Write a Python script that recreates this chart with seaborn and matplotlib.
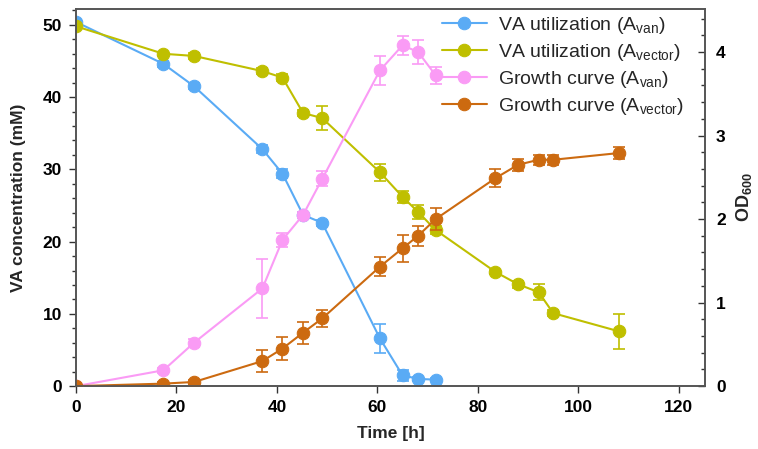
import matplotlib
matplotlib.use("Agg")
import matplotlib.pyplot as plt
import seaborn as sns
import pandas as pd
from matplotlib.ticker import MultipleLocator

sns.set_theme(style="ticks")
plt.rcParams['font.family'] = ['Liberation Sans', 'DejaVu Sans']
plt.rcParams['mathtext.fontset'] = 'custom'
plt.rcParams['mathtext.rm'] = 'Liberation Sans'
plt.rcParams['mathtext.bf'] = 'Liberation Sans:bold'
plt.rcParams['mathtext.default'] = 'regular'

# Data
t_van = [0, 17.4, 23.5, 37.1, 41.1, 45.2, 49.0, 60.5, 65.0, 68.1, 71.6]
va_van = [50.4, 44.6, 41.5, 32.8, 29.4, 23.7, 22.6, 6.6, 1.5, 1.0, 0.9]
va_van_err = [0.3, 0.4, 0.4, 0.6, 0.6, 0.4, 0.4, 2.0, 0.8, 0.3, 0.2]

t_vec = [0, 17.4, 23.5, 37.1, 41.1, 45.2, 49.0, 60.5, 65.0, 68.1, 71.6, 83.5, 88.0, 92.1, 95.0, 108.0]
va_vec = [49.8, 46.0, 45.7, 43.6, 42.7, 37.8, 37.1, 29.6, 26.2, 24.1, 21.6, 15.8, 14.1, 13.0, 10.1, 7.6]
va_vec_err = [0.3, 0.3, 0.4, 0.4, 0.5, 0.4, 1.7, 1.2, 0.8, 1.0, 0.6, 0.3, 0.5, 1.1, 0.4, 2.4]

od_van = [0.0, 0.19, 0.52, 1.17, 1.75, 2.05, 2.48, 3.78, 4.08, 4.00, 3.72]
od_van_err = [0.01, 0.03, 0.05, 0.35, 0.08, 0.04, 0.09, 0.17, 0.11, 0.14, 0.10]

od_vec = [0.0, 0.03, 0.05, 0.30, 0.45, 0.64, 0.81, 1.43, 1.65, 1.80, 2.00, 2.49, 2.65, 2.71, 2.71, 2.79]
od_vec_err = [0.01, 0.02, 0.02, 0.13, 0.14, 0.13, 0.10, 0.11, 0.16, 0.12, 0.13, 0.11, 0.07, 0.06, 0.06, 0.07]

labels = ['VA utilization (A$_{van}$)', 'VA utilization (A$_{vector}$)',
          'Growth curve (A$_{van}$)', 'Growth curve (A$_{vector}$)']
colors = ['#5aabf5', '#bfbf00', '#fa9bf5', '#cc6a10']

fig = plt.figure(figsize=(7.58, 4.49), dpi=100)
ax = fig.add_axes([0.1003, 0.14, 0.8297, 0.84])
ax2 = ax.twinx()

ms = 9
lw = 1.5

def draw(axis, x, y, err, label, color):
    df = pd.DataFrame({'t': x, 'v': y})
    axis.errorbar(x, y, yerr=err, fmt='none', ecolor=color, elinewidth=1.2, capsize=4, capthick=1.2)
    sns.lineplot(data=df, x='t', y='v', ax=axis, color=color, marker='o', markersize=ms,
                 markeredgecolor=color, linewidth=lw, label=label, legend=False)

draw(ax, t_van, va_van, va_van_err, labels[0], colors[0])
draw(ax, t_vec, va_vec, va_vec_err, labels[1], colors[1])
draw(ax2, t_van, od_van, od_van_err, labels[2], colors[2])
draw(ax2, t_vec, od_vec, od_vec_err, labels[3], colors[3])

ax.set_xlim(0, 125.2)
ax.set_ylim(0, 52.2)
ax2.set_ylim(0, 4.515)

ax.xaxis.set_major_locator(MultipleLocator(20))
ax.yaxis.set_major_locator(MultipleLocator(10))
ax.yaxis.set_minor_locator(MultipleLocator(2))
ax2.yaxis.set_major_locator(MultipleLocator(1))
ax2.yaxis.set_minor_locator(MultipleLocator(0.2))

ax.tick_params(axis='both', which='major', direction='out', length=5, width=1, labelsize=12.5,
               colors='#333333', labelcolor='black', pad=5)
ax.tick_params(axis='y', which='minor', direction='out', length=3, width=1, colors='#333333')
ax2.tick_params(axis='y', which='major', direction='in', length=5, width=1, labelsize=12.5,
                colors='#333333', labelcolor='black', pad=8)
ax2.tick_params(axis='y', which='minor', direction='in', length=3, width=1, colors='#333333')

for a in (ax, ax2):
    for lab in a.get_xticklabels() + a.get_yticklabels():
        lab.set_fontweight('bold')
    for s in a.spines.values():
        s.set_color('#555555')
        s.set_linewidth(1.2)
        s.set_visible(True)

ax.set_xlabel('Time [h]', fontsize=12.5, fontweight='bold', labelpad=8)
ax.set_ylabel('VA concentration (mM)', fontsize=12.5, fontweight='bold', labelpad=12)
ax2.set_ylabel(r'OD$_{\mathbf{600}}$', fontsize=13, fontweight='bold', labelpad=6)

h1, l1 = ax.get_legend_handles_labels()
h2, l2 = ax2.get_legend_handles_labels()
leg = ax2.legend(h1 + h2, l1 + l2, loc='upper right', bbox_to_anchor=(0.995, 1.03), frameon=False,
                 fontsize=14, handlelength=2.3, labelspacing=0.3, handletextpad=0.6)

fig.savefig('out.png', dpi=100)
